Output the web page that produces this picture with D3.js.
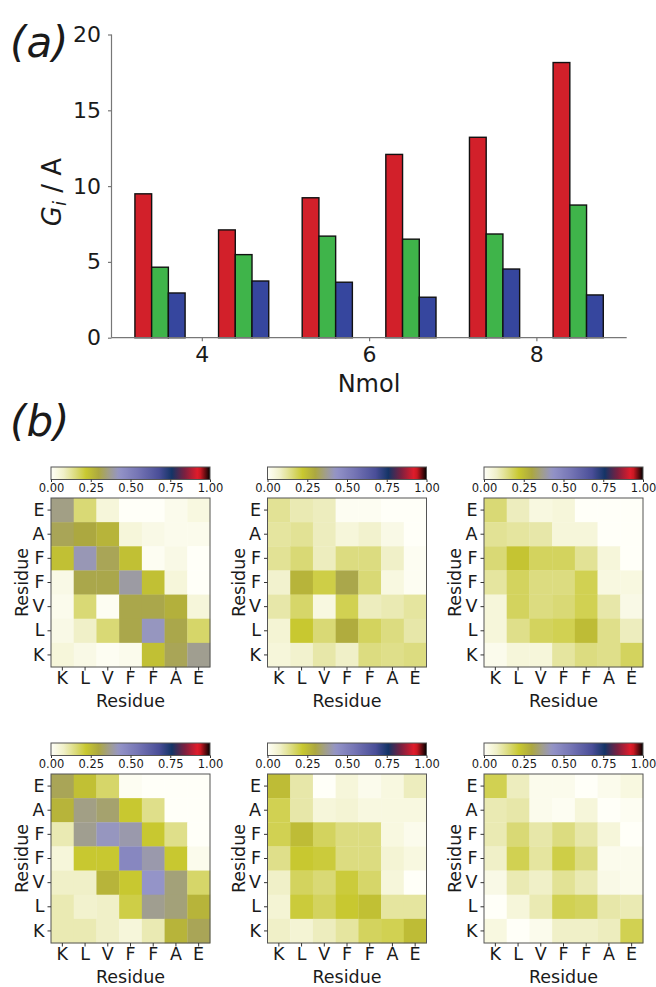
<!DOCTYPE html>
<html>
<head>
<meta charset="utf-8">
<script src="https://cdn.jsdelivr.net/npm/d3@7"></script>
<style>
  body { margin: 0; background: #fff; }
  svg text { font-family: "DejaVu Sans", sans-serif; fill: #1a1a1a; }
</style>
</head>
<body>
<svg id="fig" width="656" height="987"></svg>
<script>
// panel (a) data
const nmol = [3, 4, 5, 6, 7, 8]
const redVals = [9.49, 7.11, 9.23, 12.09, 13.22, 18.15]
const greenVals = [4.65, 5.48, 6.70, 6.50, 6.84, 8.75]
const blueVals = [2.95, 3.74, 3.66, 2.67, 4.53, 2.82]
const yTicks = [0, 5, 10, 15, 20]
const xTicks = [4, 6, 8]

// panel (b) data: residue labels and contact maps (rows listed top to bottom: E, A, F, F, V, L, K)
const residues = ['K', 'L', 'V', 'F', 'F', 'A', 'E']
const cbarTicks = [0, 0.25, 0.5, 0.75, 1]
const map1 = [
  [0.36, 0.16, 0.05, 0.00, 0.00, 0.02, 0.04],
  [0.32, 0.30, 0.27, 0.05, 0.03, 0.02, 0.02],
  [0.24, 0.41, 0.32, 0.24, 0.01, 0.03, 0.00],
  [0.03, 0.31, 0.31, 0.39, 0.24, 0.05, 0.00],
  [0.02, 0.16, 0.01, 0.31, 0.31, 0.28, 0.05],
  [0.03, 0.08, 0.16, 0.31, 0.42, 0.31, 0.17],
  [0.05, 0.03, 0.01, 0.02, 0.24, 0.32, 0.37]
]
const map2 = [
  [0.13, 0.10, 0.09, 0.01, 0.01, 0.00, 0.00],
  [0.12, 0.13, 0.09, 0.05, 0.07, 0.03, 0.00],
  [0.13, 0.16, 0.09, 0.15, 0.15, 0.08, 0.01],
  [0.07, 0.27, 0.20, 0.31, 0.16, 0.04, 0.01],
  [0.11, 0.17, 0.04, 0.19, 0.09, 0.10, 0.12],
  [0.06, 0.22, 0.16, 0.29, 0.18, 0.15, 0.11],
  [0.05, 0.07, 0.11, 0.08, 0.15, 0.14, 0.15]
]
const map3 = [
  [0.16, 0.09, 0.04, 0.05, 0.00, 0.00, 0.00],
  [0.13, 0.12, 0.11, 0.05, 0.05, 0.00, 0.00],
  [0.16, 0.23, 0.18, 0.18, 0.13, 0.05, 0.00],
  [0.12, 0.18, 0.15, 0.15, 0.19, 0.04, 0.04],
  [0.05, 0.18, 0.15, 0.16, 0.19, 0.11, 0.03],
  [0.05, 0.14, 0.18, 0.19, 0.25, 0.14, 0.09],
  [0.02, 0.05, 0.05, 0.12, 0.15, 0.14, 0.18]
]
const map4 = [
  [0.32, 0.24, 0.17, 0.01, 0.00, 0.00, 0.00],
  [0.27, 0.36, 0.34, 0.22, 0.14, 0.00, 0.00],
  [0.10, 0.37, 0.42, 0.40, 0.22, 0.14, 0.00],
  [0.05, 0.22, 0.22, 0.48, 0.40, 0.22, 0.02],
  [0.08, 0.08, 0.27, 0.22, 0.43, 0.35, 0.17],
  [0.10, 0.07, 0.08, 0.20, 0.37, 0.35, 0.27],
  [0.10, 0.10, 0.08, 0.05, 0.10, 0.27, 0.32]
]
const map5 = [
  [0.25, 0.11, 0.00, 0.05, 0.02, 0.04, 0.09],
  [0.19, 0.11, 0.05, 0.06, 0.04, 0.04, 0.04],
  [0.19, 0.25, 0.18, 0.15, 0.15, 0.04, 0.02],
  [0.14, 0.22, 0.21, 0.15, 0.15, 0.06, 0.04],
  [0.08, 0.18, 0.16, 0.21, 0.17, 0.05, 0.00],
  [0.06, 0.21, 0.18, 0.22, 0.24, 0.12, 0.12],
  [0.08, 0.06, 0.09, 0.12, 0.18, 0.19, 0.25]
]
const map6 = [
  [0.19, 0.09, 0.02, 0.02, 0.00, 0.02, 0.04],
  [0.10, 0.11, 0.02, 0.01, 0.05, 0.00, 0.01],
  [0.10, 0.16, 0.11, 0.15, 0.11, 0.05, 0.00],
  [0.08, 0.19, 0.12, 0.20, 0.15, 0.02, 0.02],
  [0.03, 0.10, 0.08, 0.13, 0.10, 0.03, 0.02],
  [0.00, 0.05, 0.10, 0.19, 0.18, 0.11, 0.10],
  [0.04, 0.00, 0.02, 0.08, 0.08, 0.09, 0.19]
]

const svg = d3.select('#fig')

// ---------- panel (a) ----------
const x = d3.scaleLinear().domain([2.92, 9.08]).range([111.5, 626.7])
const y = d3.scaleLinear().domain([0, 20]).range([337.7, 34.5])
const barW = 0.2
const series = [
  { vals: redVals, color: '#d2202a', off: 0.2 },
  { vals: greenVals, color: '#3fb44a', off: 0.4 },
  { vals: blueVals, color: '#36469e', off: 0.6 }
]

const chart = svg.append('g')
series.forEach(s => {
  chart.selectAll(null)
    .data(nmol.map((n, i) => ({ n, v: s.vals[i] })))
    .enter()
      .append('rect')
        .attr('x', d => x(d.n + s.off))
        .attr('y', d => y(d.v))
        .attr('width', x(barW) - x(0))
        .attr('height', d => y(0) - y(d.v))
        .attr('fill', s.color)
        .attr('stroke', '#111')
        .attr('stroke-width', 1.4)
})

const yAxis = svg.append('g')
  .attr('transform', `translate(${x.range()[0]},0)`)
  .call(d3.axisLeft(y).tickValues(yTicks).tickFormat(d3.format('d')).tickSize(3.5).tickPadding(7))
const xAxis = svg.append('g')
  .attr('transform', `translate(0,${y(0)})`)
  .call(d3.axisBottom(x).tickValues(xTicks).tickFormat(d3.format('d')).tickSize(3.5).tickPadding(5))
;[yAxis, xAxis].forEach(a => {
  a.selectAll('path, line').attr('stroke', '#777').attr('stroke-width', 1.2)
  a.selectAll('text').attr('font-size', 22).attr('font-family', 'DejaVu Sans').attr('fill', '#1a1a1a')
})
yAxis.select('path').attr('d', `M0,${y(20)}V${y(0)}`)
xAxis.select('path').attr('d', `M${x.range()[0]},0H${x.range()[1]}`)

svg.append('text')
  .attr('x', 369).attr('y', 392)
  .attr('text-anchor', 'middle')
  .attr('font-size', 24)
  .text('Nmol')

const yLab = svg.append('text')
  .attr('transform', 'translate(61,192) rotate(-90)')
  .attr('text-anchor', 'middle')
  .attr('font-size', 26)
yLab.append('tspan').attr('font-style', 'italic').text('G')
yLab.append('tspan').attr('font-style', 'italic').attr('font-size', 18).attr('dy', 5).text('i')
yLab.append('tspan').attr('dy', -5).text(' / A')

svg.append('text')
  .attr('x', 10).attr('y', 57)
  .attr('font-size', 42)
  .attr('font-style', 'italic')
  .attr('font-family', 'Liberation Sans')
  .text('(a)')
svg.append('text')
  .attr('x', 10).attr('y', 436)
  .attr('font-size', 42)
  .attr('font-style', 'italic')
  .attr('font-family', 'Liberation Sans')
  .text('(b)')

// ---------- panel (b) ----------
const cmap = d3.scaleLinear()
  .domain([0, 0.08, 0.15, 0.22, 0.30, 0.37, 0.43, 0.55, 0.68, 0.76, 0.84, 0.93, 1])
  .range(['#fffff8', '#f0f0c8', '#dcdc80', '#c8c830', '#aca840', '#a09e90', '#9494c8',
          '#7474b4', '#4a4e98', '#143466', '#7a2040', '#ec1c28', '#000000'])
  .interpolate(d3.interpolateRgb)
  .clamp(true)

const panels = [
  { data: map1, x0: 51, y0: 498 },
  { data: map2, x0: 267.5, y0: 498 },
  { data: map3, x0: 484, y0: 498 },
  { data: map4, x0: 51, y0: 774 },
  { data: map5, x0: 267.5, y0: 774 },
  { data: map6, x0: 484, y0: 774 }
]
const W = 159, H = 169

let gradId = 0
function drawHeatmap(p) {
  const g = svg.append('g').attr('transform', `translate(${p.x0},${p.y0})`)
  const idx = d3.range(residues.length)
  const cx = d3.scaleBand().domain(idx).range([0, W])
  const cy = d3.scaleBand().domain(idx.slice().reverse()).range([0, H])

  const cells = []
  p.data.forEach((row, r) => row.forEach((v, c) => cells.push({ r: 6 - r, c, v })))
  g.selectAll('rect.cell')
    .data(cells)
    .enter()
      .append('rect')
        .attr('class', 'cell')
        .attr('x', d => cx(d.c))
        .attr('y', d => cy(d.r))
        .attr('width', cx.bandwidth() + 0.3)
        .attr('height', cy.bandwidth() + 0.3)
        .attr('fill', d => cmap(d.v))

  g.append('rect').attr('width', W).attr('height', H)
    .attr('fill', 'none').attr('stroke', '#555').attr('stroke-width', 1)

  const fmt = i => residues[i]
  const ax = g.append('g').attr('transform', `translate(0,${H})`)
    .call(d3.axisBottom(cx).tickFormat(fmt).tickSize(3.5).tickPadding(1))
  const ay = g.append('g')
    .call(d3.axisLeft(cy).tickFormat(fmt).tickSize(3.5).tickPadding(3))
  ;[ax, ay].forEach(a => {
    a.select('path').remove()
    a.selectAll('line').attr('stroke', '#333')
    a.selectAll('text').attr('font-size', 17.5).attr('font-family', 'DejaVu Sans').attr('fill', '#1a1a1a')
  })

  g.append('text').attr('x', W / 2).attr('y', H + 39.5)
    .attr('text-anchor', 'middle').attr('font-size', 17.5).text('Residue')
  g.append('text').attr('transform', `translate(-23,${H / 2}) rotate(-90)`)
    .attr('text-anchor', 'middle').attr('font-size', 17.5).text('Residue')

  // colorbar
  const id = 'cb' + (gradId++)
  const grad = svg.append('defs').append('linearGradient').attr('id', id)
  d3.range(0, 1.0001, 0.02).forEach(t => {
    grad.append('stop').attr('offset', t).attr('stop-color', cmap(t))
  })
  const cb = g.append('g').attr('transform', 'translate(0,-31)')
  cb.append('rect').attr('width', W).attr('height', 12.5)
    .attr('fill', `url(#${id})`).attr('stroke', '#555').attr('stroke-width', 1)
  const cs = d3.scaleLinear().domain([0, 1]).range([0, W])
  const cax = cb.append('g').attr('transform', 'translate(0,12.5)')
    .call(d3.axisBottom(cs).tickValues(cbarTicks).tickFormat(d3.format('.2f')).tickSize(2.5).tickPadding(1.5))
  cax.select('path').remove()
  cax.selectAll('line').attr('stroke', '#333')
  cax.selectAll('text').attr('font-size', 11.5).attr('font-family', 'DejaVu Sans').attr('fill', '#1a1a1a')
}

panels.forEach(drawHeatmap)
</script>
</body>
</html>
